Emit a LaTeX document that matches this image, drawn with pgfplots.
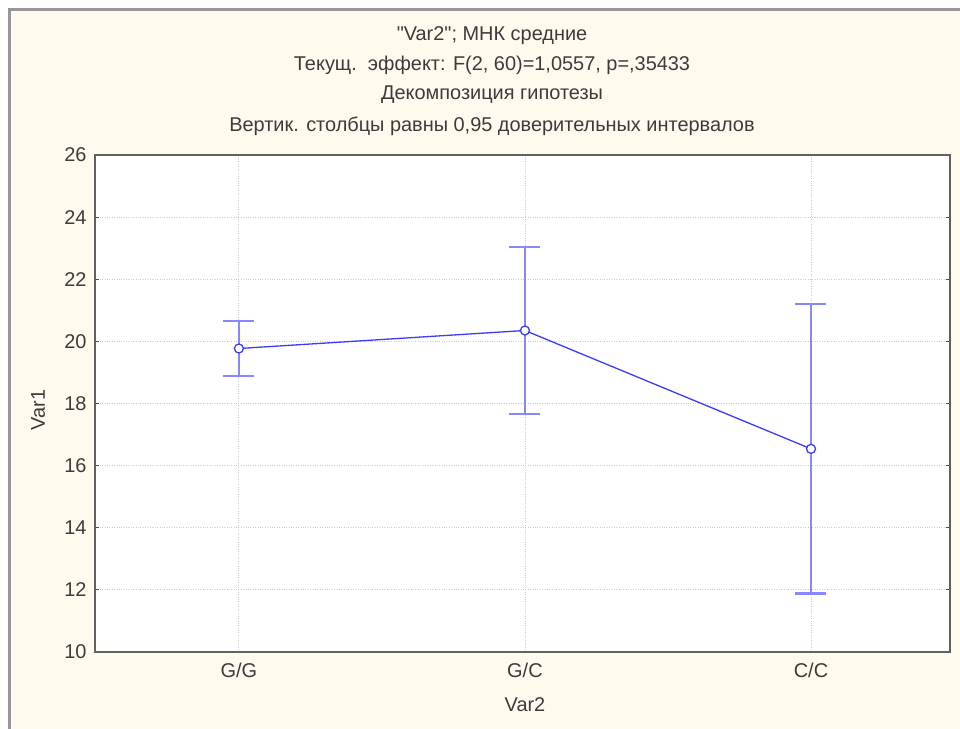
\documentclass[border=0pt]{standalone}
\usepackage{pgfplots}
\pgfplotsset{compat=1.18}
\usepackage{fontspec}
\setmainfont{Liberation Sans}
\definecolor{cream}{RGB}{255,250,238}
\definecolor{frameg}{RGB}{150,150,155}
\definecolor{txt}{RGB}{60,60,60}
\definecolor{barblue}{RGB}{135,135,255}
\definecolor{lineblue}{RGB}{60,60,255}
\begin{document}
\begin{tikzpicture}[x=1bp,y=1bp]
\fill[white] (0,0) rectangle (960,729);
\fill[cream] (11,0) rectangle (960,718);
\fill[frameg] (8,0) rectangle (11,721);
\fill[frameg] (8,718) rectangle (960,721);
\begin{axis}[
  at={(95bp,77bp)}, anchor=south west, scale only axis,
  width=855bp, height=497bp,
  xmin=-0.503, xmax=2.486, ymin=10, ymax=26,
  xtick={0,1,2}, xticklabels={G/G,G/C,C/C},
  ytick={10,12,...,26},
  grid=major,
  major grid style={dotted, gray!40, line width=0.8bp},
  axis line style={draw=black!62, line width=1.6bp},
  tick style={black!70, line width=0.8bp},
  major tick length=4bp,
  tick align=inside,
  xtick style={draw=none},
  axis background/.style={fill=white},
  ticklabel style={font=\fontsize{20}{23}\selectfont, text=txt},
  /pgf/number format/assume math mode=true,
  yticklabel style={xshift=-5bp},
  xticklabel style={yshift=-8bp},
  clip=false,
]
\addplot[barblue, line width=2.6bp, only marks, mark=none, forget plot,
  error bars/.cd, y dir=both, y explicit,
  error bar style={line width=2.6bp, barblue},
  error mark options={rotate=90, mark size=15.5bp, line width=2.2bp, barblue}]
  coordinates {
   (0,19.77) +- (0,0.884)
   (1,20.35) +- (0,2.70)
   (2,16.54) +- (0,4.66)
  };
\addplot[lineblue, line width=1.3bp, mark=*, mark size=4.5bp,
  mark options={fill=white, draw=lineblue, line width=1.3bp}]
  coordinates {(0,19.77) (1,20.35) (2,16.54)};
\end{axis}
\begin{scope}[every node/.style={text=txt, font=\fontsize{20}{23}\selectfont}]
\node at (492,693) {\textquotedbl Var2\textquotedbl; МНК средние};
\node at (492,664) {Текущ.\ \ эффект: F(2, 60)=1,0557, p=,35433};
\node at (492,634) {Декомпозиция гипотезы};
\node at (492,603) {Вертик. столбцы равны 0,95 доверительных интервалов};
\node at (525,24) {Var2};
\node[rotate=90] at (38,319) {Var1};
\end{scope}
\end{tikzpicture}
\end{document}
